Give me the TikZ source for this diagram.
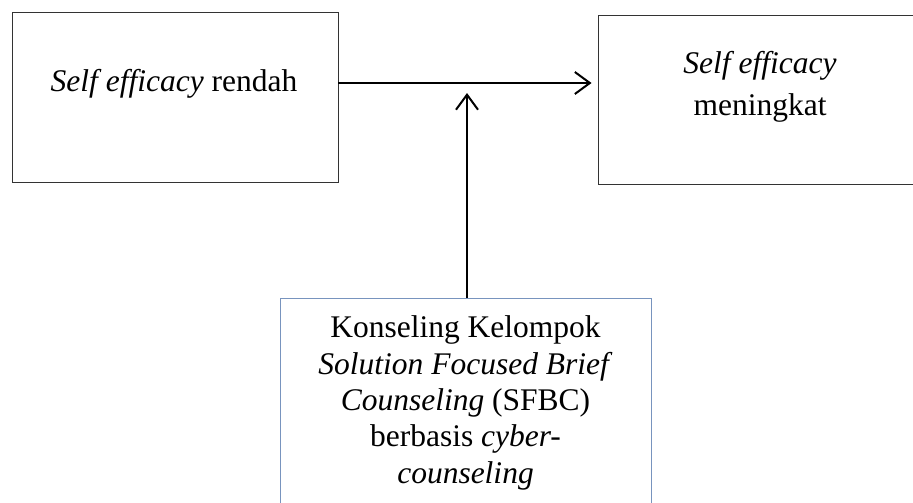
\documentclass[tikz,border=0pt]{standalone}
\usepackage{fontspec}
\setmainfont{Liberation Serif}
\usetikzlibrary{arrows.meta}
\definecolor{boxblue}{RGB}{120,148,190}
\tikzset{
    varbox/.style = {draw=black!80, line width=0.9pt, inner sep=0pt},
    varlabel/.style = {inner sep=0pt, align=center, font=\fontsize{31.5}{36.3}\selectfont},
    flow/.style = {line width=2pt, -{Straight Barb[length=15pt,width=22pt]}},
}

\begin{document}
\begin{tikzpicture}[x=1pt,y=-1pt]
    \clip (0,0) rectangle (913,503);
    \fill[white] (0,0) rectangle (913,503);
    \node (low) at (175,97.5) [varbox, minimum width=326pt, minimum height=170pt] {};
    \node (high) at (761.5,99.5) [varbox, minimum width=327pt, minimum height=169pt] {};
    \node (sfbc) at (465.5,406.5) [varbox, draw=boxblue, minimum width=371pt, minimum height=217pt] {};
    % base = last line
    \node (lowtext) at (174,92) [varlabel, anchor=base] {\textit{Self efficacy} rendah};
    \node (hightext) at (760,115) [varlabel, anchor=base, font=\fontsize{31.5}{42}\selectfont] {\textit{Self efficacy}\\meningkat};
    \node (sfbctext) at (465.5,483) [varlabel, anchor=base] {Konseling Kelompok\\\textit{Solution Focused Brief}\\\textit{Counseling} (SFBC)\\berbasis \textit{cyber-}\\\textit{counseling}};
    \coordinate (join) at ([yshift=14.5pt]low.east);
    \draw[flow, shorten >=6pt] (join) -- (high.west |- join);
    \draw[flow, shorten >=10pt] ([xshift=1.5pt]sfbc.north) -- ([xshift=1.5pt]sfbc.north |- join);
\end{tikzpicture}
\end{document}
